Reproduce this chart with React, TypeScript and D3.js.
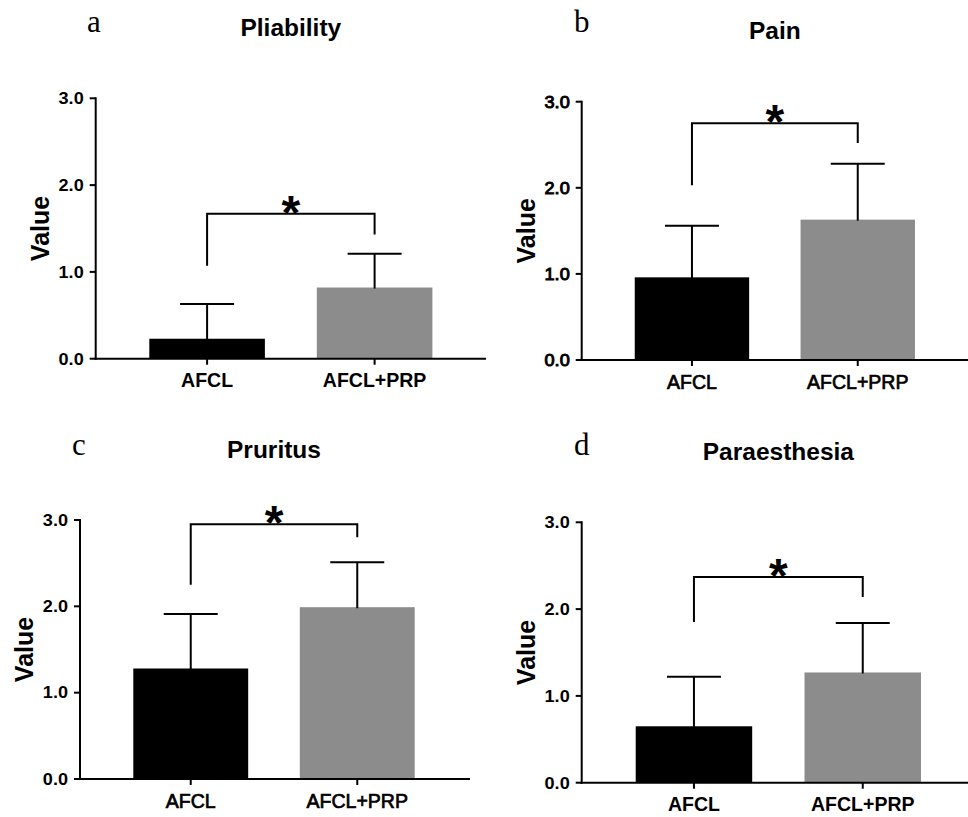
import React from "react";
import * as d3 from "d3";

// ---------- data ----------
const categories = ["AFCL", "AFCL+PRP"];
const panelLetters = ["a", "b", "c", "d"];
const panelTitles = ["Pliability", "Pain", "Pruritus", "Paraesthesia"];
const afclMeans = [0.23, 0.96, 1.28, 0.65];
const afclSD = [0.40, 0.60, 0.63, 0.57];
const prpMeans = [0.82, 1.63, 1.99, 1.27];
const prpSD = [0.39, 0.65, 0.52, 0.57];
const yTicks = [0, 1, 2, 3];
const yTickLabels = ["0.0", "1.0", "2.0", "3.0"];
const bracketTop = [1.67, 2.75, 2.95, 2.37];
const bracketLeftEnd = [1.07, 2.03, 2.25, 1.85];
const bracketRightEnd = [1.43, 2.52, 2.8, 2.14];
const sigLabels = ["*", "*", "*", "*"];
const barColors = ["#000000", "#8c8c8c"];

// ---------- layout ----------
const layouts = [
  { axisX: 95.7, yTop: 98.3, yBot: 358.7, xEnd: 486, lineEnd: 486, letterX: 87, letterY: 32, strongCat: true, strongTick: true },
  { axisX: 581.7, yTop: 101.7, yBot: 360, xEnd: 968, lineEnd: 968, letterX: 574, letterY: 32, strongCat: false, strongTick: false },
  { axisX: 80, yTop: 520, yBot: 779, xEnd: 468, lineEnd: 470, letterX: 72, letterY: 455, strongCat: false, strongTick: true },
  { axisX: 581.7, yTop: 522.3, yBot: 782.7, xEnd: 975, lineEnd: 968, letterX: 574, letterY: 455, strongCat: true, strongTick: true },
];

const SANS = "'Liberation Sans', Arial, Helvetica, sans-serif";
const SERIF = "'Liberation Serif', 'Times New Roman', serif";

function Panel({ i }: { i: number }) {
  const L = layouts[i];
  const y = d3.scaleLinear().domain([0, 3]).range([L.yBot, L.yTop]);
  const x = d3
    .scaleBand<string>()
    .domain(categories)
    .range([L.axisX, L.xEnd])
    .paddingInner(0.31)
    .paddingOuter(0.32);
  const bw = x.bandwidth();
  const means = [afclMeans[i], prpMeans[i]];
  const sds = [afclSD[i], prpSD[i]];
  const capHalf = 27;
  const cx = (c: string) => (x(c) as number) + bw / 2;
  const lx = cx(categories[0]);
  const rx = cx(categories[1]);
  const by = y(bracketTop[i]);
  const lineW = 2;

  const catStyle = L.strongCat
    ? { fontWeight: "bold" as const }
    : { fontWeight: "normal" as const, stroke: "#000", strokeWidth: 0.7 };
  const tickStyle = L.strongTick
    ? { fontWeight: "bold" as const }
    : { fontWeight: "normal" as const, stroke: "#000", strokeWidth: 0.9 };

  return (
    <g>
      {/* panel letter */}
      <text x={L.letterX} y={L.letterY} fontFamily={SERIF} fontSize={31} fill="#000">
        {panelLetters[i]}
      </text>
      {/* title */}
      <text
        x={(L.axisX + L.xEnd) / 2}
        y={L.yTop - 62.5}
        textAnchor="middle"
        fontFamily={SANS}
        fontWeight="bold"
        fontSize={24.5}
        fill="#000"
      >
        {panelTitles[i]}
      </text>
      {/* y label */}
      <text
        transform={`translate(${L.axisX - 47},${(L.yTop + L.yBot) / 2}) rotate(-90)`}
        textAnchor="middle"
        fontFamily={SANS}
        fontWeight="bold"
        fontSize={25}
        fill="#000"
      >
        Value
      </text>
      {/* bars */}
      {categories.map((c, k) => (
        <rect
          key={c}
          x={x(c)}
          y={y(means[k])}
          width={bw}
          height={y(0) - y(means[k])}
          fill={barColors[k]}
        />
      ))}
      {/* error bars */}
      {categories.map((c, k) => (
        <g key={c} stroke="#000" strokeWidth={lineW} fill="none">
          <line x1={cx(c)} x2={cx(c)} y1={y(means[k]) + 1} y2={y(means[k] + sds[k])} />
          <line x1={cx(c) - capHalf} x2={cx(c) + capHalf} y1={y(means[k] + sds[k])} y2={y(means[k] + sds[k])} />
        </g>
      ))}
      {/* axes */}
      <line x1={L.axisX} x2={L.axisX} y1={L.yTop - 1} y2={L.yBot + 1} stroke="#000" strokeWidth={lineW} />
      <line x1={L.axisX - 1} x2={L.lineEnd} y1={L.yBot} y2={L.yBot} stroke="#000" strokeWidth={lineW} />
      {yTicks.map((t, k) => (
        <g key={t}>
          <line x1={L.axisX - 6} x2={L.axisX} y1={y(t)} y2={y(t)} stroke="#000" strokeWidth={lineW} />
          <text
            transform={`translate(${L.axisX - 12},${y(t) + 5.8}) scale(1.13,1)`}
            textAnchor="end"
            fontFamily={SANS}
            fontSize={16}
            fill="#000"
            {...tickStyle}
          >
            {yTickLabels[k]}
          </text>
        </g>
      ))}
      {categories.map((c) => (
        <g key={c}>
          <line x1={cx(c)} x2={cx(c)} y1={L.yBot} y2={L.yBot + 6} stroke="#000" strokeWidth={lineW} />
          <text
            x={cx(c)}
            y={L.yBot + 28.5}
            textAnchor="middle"
            fontFamily={SANS}
            fontSize={19.5}
            fill="#000"
            {...catStyle}
          >
            {c}
          </text>
        </g>
      ))}
      {/* significance bracket */}
      <path
        d={`M${lx},${y(bracketLeftEnd[i])}V${by}H${rx}V${y(bracketRightEnd[i])}`}
        fill="none"
        stroke="#000"
        strokeWidth={lineW}
      />
      <text
        x={(lx + rx) / 2}
        y={by + 15}
        textAnchor="middle"
        fontFamily={SANS}
        fontWeight="bold"
        fontSize={48}
        fill="#000"
      >
        {sigLabels[i]}
      </text>
    </g>
  );
}

export default function App() {
  return (
    <svg
      width={968}
      height={817}
      viewBox="0 0 968 817"
      style={{ position: "absolute", left: 0, top: 0, background: "#fff" }}
    >
      <rect x={0} y={0} width={968} height={817} fill="#fff" />
      {panelTitles.map((_, i) => (
        <Panel key={i} i={i} />
      ))}
    </svg>
  );
}
